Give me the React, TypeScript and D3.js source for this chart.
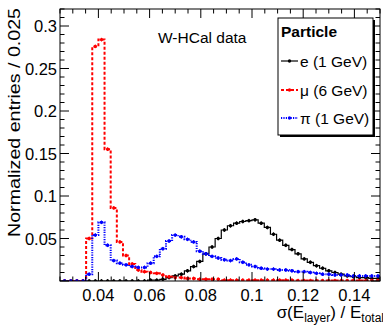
import React from 'react';
import * as d3 from 'd3';

// Histogram binning (lower edge of first bin, bin width)
const X_START = 0.0184;
const BIN_W = 0.0024;

// e (1 GeV)
const electron = [
  0, 0, 0, 0, 0, 0, 0, 0, 0, 0,
  0, 0, 0, 0, 0, 0, 0, 0.001, 0.001, 0.002,
  0.004, 0.006, 0.008, 0.012, 0.017, 0.023, 0.032, 0.04, 0.05, 0.06,
  0.065, 0.068, 0.07, 0.071, 0.072, 0.068, 0.063, 0.055, 0.048, 0.042,
  0.037, 0.032, 0.026, 0.022, 0.018, 0.015, 0.012, 0.01, 0.008, 0.006,
  0.005, 0.004, 0.004, 0.003, 0.003,
];
// mu (6 GeV)
const muon = [
  0, 0, 0, 0, 0, 0, 0, 0.05, 0.276, 0.284,
  0.155, 0.086, 0.046, 0.03, 0.02, 0.013, 0.011, 0.01, 0.009, 0.007,
  0.005, 0.004, 0.004, 0.003, 0.003, 0.002, 0.002, 0.002, 0.002, 0.001,
  0.001, 0.001, 0.001, 0.001, 0.001, 0.001, 0.001, 0.001, 0.001, 0.001,
  0.001, 0.0005, 0.0005, 0.0005, 0.0005, 0.0005, 0.0005, 0.0005, 0.0005, 0.0005,
  0.0005, 0.0005, 0.0005, 0.0005, 0.0005,
];
// pi (1 GeV)
const pion = [
  0, 0, 0, 0, 0, 0, 0, 0.008, 0.054, 0.069,
  0.042, 0.024, 0.021, 0.019, 0.017, 0.016, 0.016, 0.021, 0.029, 0.038,
  0.047, 0.054, 0.052, 0.049, 0.046, 0.035, 0.032, 0.029, 0.027, 0.025,
  0.024, 0.026, 0.022, 0.019, 0.017, 0.015, 0.014, 0.014, 0.013, 0.013,
  0.012, 0.011, 0.011, 0.01, 0.009, 0.008, 0.008, 0.007, 0.007, 0.007,
  0.006, 0.006, 0.006, 0.006, 0.006,
];

const xTicks = [0.04, 0.06, 0.08, 0.1, 0.12, 0.14];
const xTickLabels = ['0.04', '0.06', '0.08', '0.1', '0.12', '0.14'];
const yTicks = [0.05, 0.1, 0.15, 0.2, 0.25, 0.3];
const yTickLabels = ['0.05', '0.1', '0.15', '0.2', '0.25', '0.3'];

const legendTitle = 'Particle';
const seriesNames = ['e (1 GeV)', 'μ (6 GeV)', 'π (1 GeV)'];

const W = 383;
const H = 327;
const L = 60;
const R = 380;
const T = 9;
const B = 281;
const FONT = '"Liberation Sans", Arial, Helvetica, sans-serif';

export default function App() {
  const x = d3.scaleLinear().domain([0.025, 0.15]).range([L, R]);
  const y = d3.scaleLinear().domain([0, 0.32]).range([B, T]);

  const series = [
    { data: electron, color: '#000000', dash: undefined as string | undefined, width: 1.2 },
    { data: muon, color: '#ff0000', dash: '3,2', width: 2 },
    { data: pion, color: '#0000ff', dash: '1.2,1.2', width: 2 },
  ];

  const stepPath = (data: number[]) => {
    const pts: [number, number][] = [];
    data.forEach((v, k) => {
      const x0 = X_START + k * BIN_W;
      const x1 = x0 + BIN_W;
      pts.push([x0, v]);
      pts.push([x1, v]);
    });
    const line = d3
      .line<[number, number]>()
      .x((d) => x(d[0]))
      .y((d) => y(d[1]));
    return line(pts) || '';
  };

  const minorX = d3.range(0, 26).map((i) => 0.025 + i * 0.005).filter((v) => v <= 0.15 + 1e-9);
  const minorY = d3.range(0, 33).map((i) => i * 0.01).filter((v) => v <= 0.32 + 1e-9);
  const isMajorX = (v: number) => xTicks.some((t) => Math.abs(t - v) < 1e-9);
  const isMajorY = (v: number) => Math.abs(v / 0.05 - Math.round(v / 0.05)) < 1e-6;

  // legend layout
  const lgX0 = 278;
  const lgY0 = 18;
  const lgX1 = 373;
  const lgY1 = 135;
  const entryY = [61, 90, 118];

  return (
    <svg
      width={W}
      height={H}
      style={{ position: 'absolute', left: 0, top: 0, display: 'block', background: '#fff' }}
      fontFamily={FONT}
    >
      <defs>
        <clipPath id="frameClip">
          <rect x={L} y={T} width={R - L} height={B - T} />
        </clipPath>
      </defs>
      <rect x={0} y={0} width={W} height={H} fill="#fff" />

      {/* histograms */}
      <g clipPath="url(#frameClip)">
        {series.map((s, i) => (
          <path
            key={'p' + i}
            d={stepPath(s.data)}
            fill="none"
            stroke={s.color}
            strokeWidth={s.width}
            strokeDasharray={s.dash}
          />
        ))}
        {series.map((s, i) => (
          <g key={'m' + i} fill={s.color} stroke={s.color}>
            {s.data.map((v, k) => {
              const xc = x(X_START + (k + 0.5) * BIN_W);
              if (xc < L || xc > R) return null;
              const yc = y(v);
              return (
                <g key={k}>
                  <line x1={xc} x2={xc} y1={yc - 1.8} y2={yc + 1.8} strokeWidth={1} />
                  <circle cx={xc} cy={yc} r={1.7} stroke="none" />
                </g>
              );
            })}
          </g>
        ))}
      </g>

      {/* frame */}
      <rect x={L} y={T} width={R - L} height={B - T} fill="none" stroke="#000" strokeWidth={1} />

      {/* x ticks bottom & top */}
      {minorX.map((v, i) => {
        const len = isMajorX(v) ? 9 : 4.5;
        const px = x(v);
        return (
          <g key={'xt' + i} stroke="#000" strokeWidth={1}>
            <line x1={px} x2={px} y1={B} y2={B - len} />
            <line x1={px} x2={px} y1={T} y2={T + len} />
          </g>
        );
      })}
      {/* y ticks left & right */}
      {minorY.map((v, i) => {
        const len = isMajorY(v) ? 9 : 4.5;
        const py = y(v);
        return (
          <g key={'yt' + i} stroke="#000" strokeWidth={1}>
            <line x1={L} x2={L + len} y1={py} y2={py} />
            <line x1={R} x2={R - len} y1={py} y2={py} />
          </g>
        );
      })}

      {/* tick labels */}
      {xTicks.map((v, i) => (
        <text key={'xl' + i} x={x(v)} y={B + 20} textAnchor="middle" fontSize={16.5} fill="#000">
          {xTickLabels[i]}
        </text>
      ))}
      {yTicks.map((v, i) => (
        <text key={'yl' + i} x={L - 3} y={y(v) + 6} textAnchor="end" fontSize={16.5} fill="#000">
          {yTickLabels[i]}
        </text>
      ))}

      {/* axis titles */}
      <text x={W + 1} y={318} textAnchor="end" fontSize={17} fill="#000">
        σ(E<tspan fontSize={12} dy={4}>layer</tspan>
        <tspan dy={-4}>) / E</tspan>
        <tspan fontSize={12} dy={4}>total</tspan>
      </text>
      <text
        transform={`translate(20, ${T - 1}) rotate(-90)`}
        textAnchor="end"
        fontSize={16.5}
        fill="#000"
        textLength={229}
        lengthAdjust="spacingAndGlyphs"
      >
        Normalized entries / 0.025
      </text>

      {/* annotation */}
      <text x={158} y={43} fontSize={15.5} fill="#000">
        W-HCal data
      </text>

      {/* legend */}
      <rect x={lgX0 + 2} y={lgY0 + 2} width={lgX1 - lgX0} height={lgY1 - lgY0} fill="#000" />
      <rect x={lgX0} y={lgY0} width={lgX1 - lgX0} height={lgY1 - lgY0} fill="#fff" stroke="#000" strokeWidth={1} />
      <text x={lgX0 + 3} y={lgY0 + 19} fontSize={15.5} fontWeight="bold" fill="#000">
        {legendTitle}
      </text>
      {series.map((s, i) => (
        <g key={'lg' + i}>
          <line
            x1={lgX0 + 3}
            x2={lgX0 + 20}
            y1={entryY[i]}
            y2={entryY[i]}
            stroke={s.color}
            strokeWidth={s.width}
            strokeDasharray={s.dash}
          />
          <circle cx={lgX0 + 11.5} cy={entryY[i]} r={1.7} fill={s.color} />
          <text x={lgX0 + 22} y={entryY[i] + 5.5} fontSize={15.5} fill="#000">
            {seriesNames[i]}
          </text>
        </g>
      ))}
    </svg>
  );
}
